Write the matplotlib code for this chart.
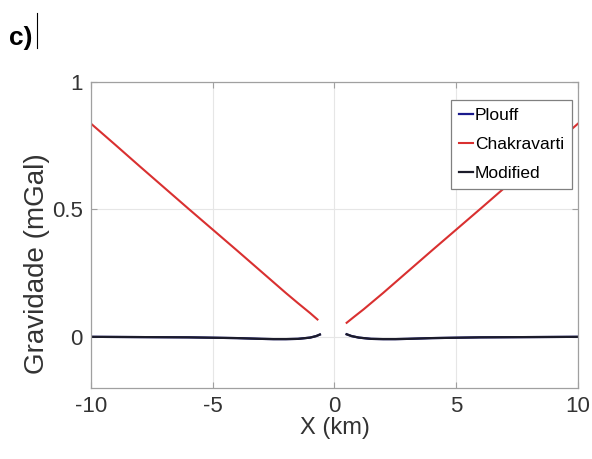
import matplotlib.pyplot as plt
from matplotlib.lines import Line2D

plt.rcParams['font.family'] = ['Liberation Sans', 'DejaVu Sans']

# Chakravarti (red) - left and right branches, gap around x = 0
chak_x_left = [-10, -9, -8, -7, -6, -5, -4, -3, -2, -1.5, -1, -0.7]
chak_y_left = [0.835, 0.752, 0.668, 0.585, 0.502, 0.42, 0.338, 0.255, 0.172, 0.132, 0.093, 0.068]
chak_x_right = [0.5, 0.8, 1.2, 1.6, 2, 3, 4, 5, 6, 7, 8, 9, 10]
chak_y_right = [0.055, 0.078, 0.108, 0.14, 0.172, 0.255, 0.338, 0.42, 0.502, 0.585, 0.668, 0.752, 0.835]

# Plouff / Modified (overlapping, near zero)
mod_x_left = [-10, -8, -6, -4, -3, -2.5, -2, -1.5, -1.0, -0.75, -0.6]
mod_y_left = [0.0, -0.001, -0.002, -0.005, -0.008, -0.009, -0.009, -0.008, -0.003, 0.003, 0.009]
mod_x_right = [0.5, 0.7, 1.0, 1.5, 2, 2.5, 3, 4, 6, 8, 10]
mod_y_right = [0.01, 0.003, -0.003, -0.008, -0.009, -0.009, -0.008, -0.005, -0.002, -0.001, 0.0]

fig = plt.figure(figsize=(5.92, 4.59), dpi=100)
ax = fig.add_axes([0.154, 0.155, 0.822, 0.667])

# Plouff drawn first, covered by Modified
ax.plot(mod_x_left, mod_y_left, color='#1a1a8c', lw=1.6, label='Plouff')
ax.plot(mod_x_right, mod_y_right, color='#1a1a8c', lw=1.6)
ax.plot(chak_x_left, chak_y_left, color='#d93030', lw=1.5, label='Chakravarti')
ax.plot(chak_x_right, chak_y_right, color='#d93030', lw=1.5)
ax.plot(mod_x_left, mod_y_left, color='#1c1c2a', lw=1.6, label='Modified')
ax.plot(mod_x_right, mod_y_right, color='#1c1c2a', lw=1.6)

ax.set_xlim(-10, 10)
ax.set_ylim(-0.2, 1)
ax.set_xticks([-10, -5, 0, 5, 10])
ax.set_xticklabels(['-10', '-5', '0', '5', '10'])
ax.set_yticks([0, 0.5, 1])
ax.set_yticklabels(['0', '0.5', '1'])
ax.grid(True, color='#e6e6e6', lw=0.8)
ax.set_axisbelow(True)

for s in ax.spines.values():
    s.set_color('#a0a0a0')
    s.set_linewidth(0.9)
ax.tick_params(direction='in', length=4, color='#a0a0a0', labelcolor='#333333',
               labelsize=16, top=True, right=True, pad=6)

ax.set_xlabel('X (km)', fontsize=17, color='#333333', labelpad=0)
ax.set_ylabel('Gravidade (mGal)', fontsize=20, color='#333333')
ax.yaxis.set_label_coords(-0.085, 0.405)

leg = ax.legend(loc='upper right', bbox_to_anchor=(0.988, 0.941), borderaxespad=0,
                fontsize=12.5, handlelength=0.85, handletextpad=0.1,
                borderpad=0.45, labelspacing=0.8, fancybox=False, framealpha=1)
leg.get_frame().set_edgecolor('#808080')
leg.get_frame().set_linewidth(0.9)

fig.text(0.015, 0.902, 'c)', fontsize=19, fontweight='bold', color='black', va='baseline')
fig.add_artist(Line2D([0.0625, 0.0625], [0.895, 0.972], color='black', lw=0.8))

fig.savefig('out.png', dpi=100)
